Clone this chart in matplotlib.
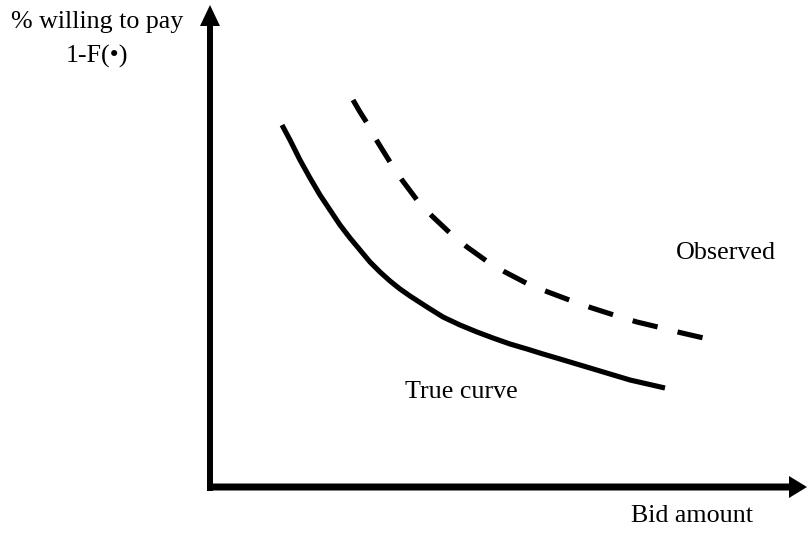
import matplotlib
matplotlib.use("Agg")
import matplotlib.pyplot as plt

# Curve data (x = bid position, y = position from top, in picture pixels)
true_x = [282, 290, 300, 310, 320, 330, 340, 350, 360, 370, 380, 390, 400,
          410, 427, 443, 460, 477, 493, 510, 527, 543, 560, 580, 600, 630, 665]
true_y = [125, 140, 160, 178, 195, 210, 225, 238, 250, 262, 272, 281, 289,
          296, 307, 317, 325, 332, 338, 344, 349, 354, 359, 365, 371, 380, 388]

obs_x = [353, 360, 367, 377, 390, 402, 417, 432, 450, 467, 488, 505, 528,
         548, 572, 592, 617, 637, 662, 682, 708]
obs_y = [100, 112, 123, 141, 162, 180, 200, 216, 233, 247, 262, 272, 284,
         292, 301, 308, 316, 322, 328, 333, 339]

y_label_lines = ["% willing to pay", "1-F(\u2022)"]
x_label = "Bid amount"
true_label = "True curve"
obs_label = "Observed"

W, H = 807, 533
fig = plt.figure(figsize=(W / 100, H / 100), dpi=100)
ax = fig.add_axes([0, 0, 1, 1])
ax.set_xlim(0, W)
ax.set_ylim(H, 0)
ax.axis("off")

font = dict(family=["Liberation Serif", "DejaVu Serif"], size=18.7, color="black")

# Axes arrows
ax.arrow(210, 491, 0, -486, width=6, head_width=20, head_length=21,
         length_includes_head=True, fc="black", ec="none")
ax.arrow(207, 487, 600, 0, width=7, head_width=22, head_length=18,
         length_includes_head=True, fc="black", ec="none")

# Curves
ax.plot(true_x, true_y, color="black", lw=3.7, solid_capstyle="butt",
        solid_joinstyle="round")
ax.plot(obs_x, obs_y, color="black", lw=3.7, linestyle=(0, (5.0, 4.0)),
        dash_capstyle="butt", dash_joinstyle="round")

# Texts
ax.text(97, 28, y_label_lines[0], ha="center", va="baseline", **font)
ax.text(97, 63, y_label_lines[1], ha="center", va="baseline", **font)
ax.text(692, 522, x_label, ha="center", va="baseline", **font)
ax.text(461, 398, true_label, ha="center", va="baseline", **font)
ax.text(726, 259, obs_label, ha="center", va="baseline", **font)

fig.savefig("out.png", dpi=100)
